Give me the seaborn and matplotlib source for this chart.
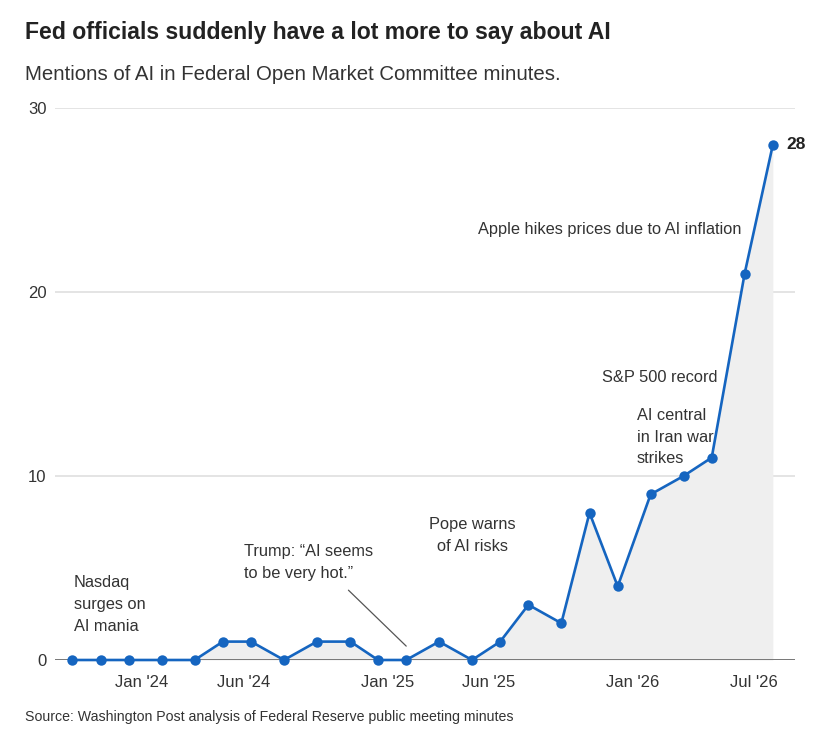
import pandas as pd
import numpy as np
import matplotlib
matplotlib.use("Agg")
import matplotlib.pyplot as plt
import matplotlib.dates as mdates
import seaborn as sns

#Datos: fechas de reuniones del FOMC y menciones de IA
fechas = ["2023-09-20", "2023-11-01", "2023-12-13", "2024-01-31", "2024-03-20",
          "2024-05-01", "2024-06-12", "2024-07-31", "2024-09-18", "2024-11-07",
          "2024-12-18", "2025-01-29", "2025-03-19", "2025-05-07", "2025-06-18",
          "2025-07-30", "2025-09-17", "2025-10-29", "2025-12-10", "2026-01-28",
          "2026-03-18", "2026-04-29", "2026-06-17", "2026-07-29"]
menciones = [0, 0, 0, 0, 0, 1, 1, 0, 1, 1, 0, 0, 1, 0, 1, 3, 2, 8, 4, 9, 10, 11, 21, 28]

tick_fechas = ["2024-01-01", "2024-06-01", "2025-01-01", "2025-06-01", "2026-01-01", "2026-07-01"]
tick_labels = ["Jan '24", "Jun '24", "Jan '25", "Jun '25", "Jan '26", "Jul '26"]

#Textos de las anotaciones
notas = {
    "nasdaq": "Nasdaq\nsurges on\nAI mania",
    "trump": "Trump: \u201cAI seems\nto be very hot.\u201d",
    "pope": "Pope warns\nof AI risks",
    "iran": "AI central\nin Iran war\nstrikes",
    "sp": "S&P 500 record",
    "apple": "Apple hikes prices due to AI inflation",
}

df = pd.DataFrame({"Fecha": pd.to_datetime(fechas), "Menciones": menciones})

AZUL = "#1565c0"
TEXTO = "#333333"
W, H = 820, 735

sns.set_style("white")
plt.rcParams['font.family'] = ['Liberation Sans', 'DejaVu Sans']

fig = plt.figure(figsize=(W / 100, H / 100), dpi=100)
ax = fig.add_axes([55 / W, 1 - 660 / H, (795 - 55) / W, (660 - 108) / H])

#Relleno gris bajo la curva
ax.fill_between(df["Fecha"], df["Menciones"], 0, color="#efefef", zorder=1, linewidth=0)

#Cuadricula horizontal
for v in [10, 20, 30]:
    ax.axhline(v, color="#dddddd", linewidth=1.1, zorder=0)
ax.axhline(0, color="#777777", linewidth=1.4, zorder=2)

sns.lineplot(data=df, x="Fecha", y="Menciones", ax=ax, color=AZUL, linewidth=1.9,
             marker="o", markersize=7.5, markeredgewidth=0, zorder=4)
for ln in ax.lines[-1:]:
    ln.set_clip_on(False)

ax.set_xlim(pd.Timestamp("2023-08-25"), pd.Timestamp("2026-08-31"))
ax.set_ylim(0, 30)
ax.set_xticks(pd.to_datetime(tick_fechas))
ax.set_xticklabels(tick_labels)
ax.set_yticks([0, 10, 20, 30])
ax.set_yticklabels(["0", "10", "20", "30"])
ax.tick_params(axis="both", length=0, labelsize=12, labelcolor=TEXTO)
ax.tick_params(axis="x", pad=11)
ax.tick_params(axis="y", pad=6)
ax.set_xlabel("")
ax.set_ylabel("")
for s in ax.spines.values():
    s.set_visible(False)

fs = 11.8
lh = 1.55

def punto(fecha):
    return pd.Timestamp(fecha)

#Anotaciones
ax.text(punto("2023-09-22"), 4.60, notas["nasdaq"], fontsize=fs, color=TEXTO,
        ha="left", va="top", linespacing=lh)
ax.text(punto("2024-06-02"), 6.30, notas["trump"], fontsize=fs, color=TEXTO,
        ha="left", va="top", linespacing=lh)
ax.annotate("", xy=(punto("2025-02-01"), 0.65), xytext=(punto("2024-11-01"), 3.9),
            arrowprops=dict(arrowstyle="-", color="#555555", linewidth=0.9))
ax.text(punto("2025-05-07"), 7.77, notas["pope"], fontsize=fs, color=TEXTO,
        ha="center", va="top", linespacing=lh)
ax.text(punto("2026-01-07"), 13.70, notas["iran"], fontsize=fs, color=TEXTO,
        ha="left", va="top", linespacing=lh)
ax.text(punto("2026-05-07"), 15.35, notas["sp"], fontsize=fs, color=TEXTO,
        ha="right", va="center")
ax.text(punto("2026-06-13"), 23.42, notas["apple"], fontsize=fs, color=TEXTO,
        ha="right", va="center")
ax.annotate(str(menciones[-1]), xy=(df["Fecha"].iloc[-1], menciones[-1]), xytext=(10, 0),
            textcoords="offset points", fontsize=12.5, fontweight="bold", color="#222222",
            ha="left", va="center")

#Titulos y fuente
fig.text(25 / W, 1 - 32 / H, "Fed officials suddenly have a lot more to say about AI",
         fontsize=16.6, fontweight="bold", color="#222222", va="center", ha="left",
         family=["Liberation Sans Narrow", "Liberation Sans", "DejaVu Sans"])
fig.text(25 / W, 1 - 75 / H, "Mentions of AI in Federal Open Market Committee minutes.",
         fontsize=14.7, color=TEXTO, va="center", ha="left")
fig.text(25 / W, 1 - 717 / H, "Source: Washington Post analysis of Federal Reserve public meeting minutes",
         fontsize=10.2, color=TEXTO, va="center", ha="left")

fig.savefig("out.png", dpi=100, facecolor="white")
